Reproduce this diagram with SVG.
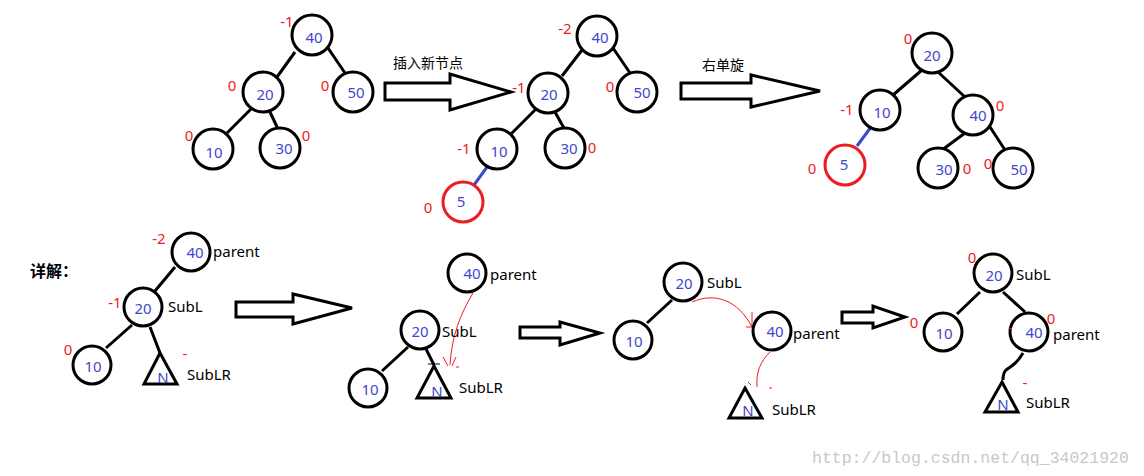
<svg xmlns="http://www.w3.org/2000/svg" width="1144" height="476" viewBox="0 0 1144 476">
<style>
.n circle{fill:#fff;stroke:#000;stroke-width:3}
.n.red circle{stroke:#ed1c24}
.v{fill:#3f48cc;font:15px "Noto Sans",sans-serif;text-anchor:middle;dominant-baseline:central}
.b{fill:#ed1c24;font:15px "Noto Sans",sans-serif;text-anchor:middle;dominant-baseline:central}
.t{fill:#000;font:15px "Noto Sans",sans-serif}
.cn{fill:#000;font:14px "Noto Sans CJK SC",sans-serif}
.e line,.e path.k{stroke:#000;stroke-width:3;fill:none}
.e .bl{stroke:#3f48cc;stroke-width:3}
.e .rc{stroke:#ed1c24;stroke-width:1;fill:none}
.ar{fill:#fff;stroke:#000;stroke-width:3}
.tri{fill:#fff;stroke:#000;stroke-width:3;stroke-linejoin:miter}
</style>
<rect width="1144" height="476" fill="#fff"/>

<g id="connectors" class="e">
<!-- tree 1 -->
<line x1="295" y1="52" x2="277" y2="77"/>
<line x1="328" y1="48" x2="345" y2="73"/>
<line x1="252" y1="108" x2="227" y2="133"/>
<line x1="270" y1="112" x2="278" y2="129"/>
<!-- tree 2 -->
<line x1="582" y1="50" x2="562" y2="76"/>
<line x1="613" y1="48" x2="630" y2="73"/>
<line x1="537" y1="108" x2="510" y2="135"/>
<line x1="555" y1="112" x2="565" y2="130"/>
<line class="bl" x1="487" y1="167" x2="474" y2="185"/>
<!-- tree 3 -->
<line x1="922" y1="70" x2="893" y2="95"/>
<line x1="938" y1="72" x2="965" y2="97"/>
<line class="bl" x1="871" y1="127" x2="857" y2="146"/>
<line x1="965" y1="133" x2="938" y2="153"/>
<line x1="990" y1="127" x2="1005" y2="150"/>
<!-- detail 1 -->
<line x1="175" y1="267" x2="155" y2="291"/>
<line x1="132" y1="325" x2="106" y2="348"/>
<line x1="150" y1="327" x2="160" y2="353"/>
<!-- detail 2 -->
<line x1="408" y1="347" x2="382" y2="371"/>
<line x1="426" y1="349" x2="434" y2="365"/>
<line x1="428" y1="364" x2="440" y2="364" style="stroke-width:1"/>
<path class="rc" d="M473,293 C460,315 452,335 450,365"/>
<path class="rc" d="M443,357 L448,366 M452,366 L456,357"/>
<line x1="456" y1="367" x2="459" y2="367" style="stroke:#ed1c24;stroke-width:1"/>
<!-- detail 3 -->
<line x1="672" y1="300" x2="647" y2="323"/>
<path class="rc" d="M692,302 C715,292 738,300 752,327"/>
<path class="rc" d="M752,312 L752,327 L746,327"/>
<path class="rc" d="M770,352 C760,362 756,372 757,387"/>
<line x1="748" y1="382" x2="751" y2="385" style="stroke:#ed1c24;stroke-width:1"/>
<line x1="769" y1="388" x2="772" y2="388" style="stroke:#ed1c24;stroke-width:1"/>
<!-- detail 4 -->
<line x1="980" y1="292" x2="957" y2="314"/>
<line x1="1003" y1="292" x2="1025" y2="312"/>
<path class="k" d="M1023,353 C1018,362 1012,366 1006,370 C1003,373 1003,376 1003,380"/>
</g>

<g id="arrows">
<polygon class="ar" points="385,83 450,83 450,74 511,92 450,110 450,100 385,100"/>
<polygon class="ar" points="681,83 751,83 751,75 820,91 751,107 751,99 681,99"/>
<polygon class="ar" points="236,302 293,302 293,294 352,308 293,324 293,317 236,317"/>
<polygon class="ar" points="520,327 560,327 560,322 600,333 560,345 560,338 520,338"/>
<polygon class="ar" points="842,312 873,312 873,306 905,317 873,328 873,323 842,323"/>
</g>

<text class="cn" x="393" y="68">插入新节点</text>
<text class="cn" x="702" y="70">右单旋</text>
<text x="30" y="277" style="font:bold 16px 'Noto Sans CJK SC',sans-serif;fill:#000">详解：</text>

<!-- tree 1 -->
<g id="t1-40" class="n"><circle cx="312" cy="35" r="20"/><text class="v" x="314" y="37">40</text><text class="b" x="287" y="21">-1</text></g>
<g id="t1-20" class="n"><circle cx="263" cy="92" r="20"/><text class="v" x="265" y="94">20</text><text class="b" x="232" y="85">0</text></g>
<g id="t1-50" class="n"><circle cx="353" cy="92" r="20"/><text class="v" x="356" y="92">50</text><text class="b" x="325" y="85">0</text></g>
<g id="t1-10" class="n"><circle cx="213" cy="149" r="20"/><text class="v" x="214" y="152">10</text><text class="b" x="189" y="135">0</text></g>
<g id="t1-30" class="n"><circle cx="280" cy="148" r="20"/><text class="v" x="284" y="148">30</text><text class="b" x="306" y="135">0</text></g>

<!-- tree 2 -->
<g id="t2-40" class="n"><circle cx="597" cy="36" r="20"/><text class="v" x="600" y="37">40</text><text class="b" x="565" y="28">-2</text></g>
<g id="t2-20" class="n"><circle cx="548" cy="93" r="20"/><text class="v" x="549" y="94">20</text><text class="b" x="519" y="87">-1</text></g>
<g id="t2-50" class="n"><circle cx="637" cy="92" r="20"/><text class="v" x="642" y="92">50</text><text class="b" x="610" y="86">0</text></g>
<g id="t2-10" class="n"><circle cx="497" cy="149" r="20"/><text class="v" x="499" y="151">10</text><text class="b" x="464" y="148">-1</text></g>
<g id="t2-30" class="n"><circle cx="565" cy="148" r="20"/><text class="v" x="569" y="148">30</text><text class="b" x="592" y="147">0</text></g>
<g id="t2-5" class="n red"><circle cx="463" cy="202" r="20"/><text class="v" x="461" y="201">5</text><text class="b" x="428" y="207">0</text></g>

<!-- tree 3 -->
<g id="t3-20" class="n"><circle cx="932" cy="53" r="20"/><text class="v" x="932" y="55">20</text><text class="b" x="908" y="38">0</text></g>
<g id="t3-10" class="n"><circle cx="880" cy="110" r="20"/><text class="v" x="882" y="112">10</text><text class="b" x="847" y="109">-1</text></g>
<g id="t3-40" class="n"><circle cx="973" cy="115" r="20"/><text class="v" x="978" y="115">40</text><text class="b" x="1000" y="105">0</text></g>
<g id="t3-5" class="n red"><circle cx="845" cy="165" r="20"/><text class="v" x="844" y="164">5</text><text class="b" x="812" y="168">0</text></g>
<g id="t3-30" class="n"><circle cx="938" cy="168" r="20"/><text class="v" x="944" y="169">30</text><text class="b" x="967" y="168">0</text></g>
<g id="t3-50" class="n"><circle cx="1013" cy="168" r="20"/><text class="v" x="1019" y="169">50</text><text class="b" x="988" y="163">0</text></g>

<!-- detail 1 -->
<g id="d1-40" class="n"><circle cx="191" cy="252" r="19"/><text class="v" x="195" y="252">40</text><text class="b" x="159" y="238">-2</text><text class="t" x="213" y="257">parent</text></g>
<g id="d1-20" class="n"><circle cx="143" cy="307" r="19"/><text class="v" x="143" y="308">20</text><text class="b" x="115" y="302">-1</text><text class="t" x="168" y="312">SubL</text></g>
<g id="d1-10" class="n"><circle cx="92" cy="365" r="19"/><text class="v" x="93" y="366">10</text><text class="b" x="68" y="349">0</text></g>
<g id="d1-N"><polygon class="tri" points="160,353 177,384 144,384"/><text class="v" x="163" y="377">N</text><text class="b" x="185" y="353">-</text><text class="t" x="187" y="380">SubLR</text></g>

<!-- detail 2 -->
<g id="d2-40" class="n"><circle cx="467" cy="273" r="19"/><text class="v" x="472" y="273">40</text><text class="t" x="490" y="280">parent</text></g>
<g id="d2-20" class="n"><circle cx="420" cy="330" r="19"/><text class="v" x="420" y="331">20</text><text class="t" x="442" y="337">SubL</text></g>
<g id="d2-10" class="n"><circle cx="368" cy="388" r="19"/><text class="v" x="370" y="389">10</text></g>
<g id="d2-N"><polygon class="tri" points="434,366 451,398 417,398"/><text class="v" x="437" y="391">N</text><text class="t" x="459" y="393">SubLR</text></g>

<!-- detail 3 -->
<g id="d3-20" class="n"><circle cx="683" cy="282" r="19"/><text class="v" x="684" y="283">20</text><text class="t" x="707" y="288">SubL</text></g>
<g id="d3-10" class="n"><circle cx="633" cy="340" r="19"/><text class="v" x="634" y="341">10</text></g>
<g id="d3-40" class="n"><circle cx="772" cy="331" r="19"/><text class="v" x="775" y="331">40</text><text class="t" x="793" y="339">parent</text></g>
<g id="d3-N"><polygon class="tri" points="745,388 762,418 729,418"/><text class="v" x="748" y="410">N</text><text class="t" x="772" y="415">SubLR</text></g>

<!-- detail 4 -->
<g id="d4-20" class="n"><circle cx="993" cy="273" r="19"/><text class="v" x="994" y="275">20</text><text class="b" x="972" y="257">0</text><text class="t" x="1016" y="280">SubL</text></g>
<g id="d4-10" class="n"><circle cx="943" cy="332" r="19"/><text class="v" x="944" y="333">10</text><text class="b" x="914" y="322">0</text></g>
<g id="d4-40" class="n"><circle cx="1029" cy="332" r="19"/><text class="v" x="1034" y="332">40</text><text class="b" x="1051" y="318">0</text><text class="b" x="1010" y="326" style="font-size:11px">-</text><text class="t" x="1053" y="340">parent</text></g>
<g id="d4-N"><polygon class="tri" points="1002,382 1018,412 985,412"/><text class="v" x="1003" y="404">N</text><text class="b" x="1025" y="382">-</text><text class="t" x="1026" y="408">SubLR</text></g>

<text x="812" y="463" style="font:16.5px 'Liberation Mono',monospace;fill:#c8c8c8">http://blog.csdn.net/qq_34021920</text>
</svg>
